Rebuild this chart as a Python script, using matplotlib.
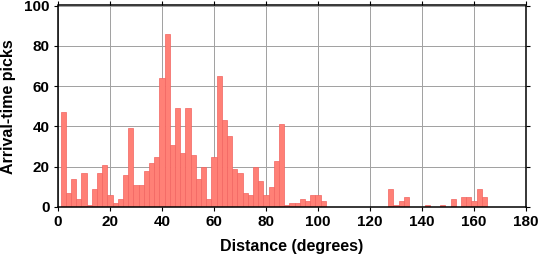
import matplotlib
matplotlib.use("Agg")
import matplotlib.pyplot as plt

plt.rcParams['font.family'] = ['Liberation Sans', 'DejaVu Sans']
plt.rcParams['font.weight'] = 'bold'

# bin centres (degrees) and number of picks per 2-degree bin
distance = [2, 4, 6, 8, 10, 12, 14, 16, 18, 20, 22, 24, 26, 28, 30, 32, 34, 36, 38, 40,
            42, 44, 46, 48, 50, 52, 54, 56, 58, 60, 62, 64, 66, 68, 70, 72, 74, 76, 78, 80,
            82, 84, 86, 88, 90, 92, 94, 96, 98, 100, 102,
            128, 130, 132, 134, 142, 148, 152, 156, 158, 160, 162, 164]
picks = [47, 7, 14, 4, 17, 1, 9, 17, 21, 6, 2, 4, 16, 39, 11, 11, 18, 22, 25, 64,
         86, 31, 49, 27, 49, 26, 14, 20, 4, 25, 65, 43, 35, 19, 17, 7, 6, 20, 13, 6,
         10, 23, 41, 1, 2, 2, 4, 3, 6, 6, 3,
         9, 1, 3, 5, 1, 1, 4, 5, 5, 3, 9, 5]

fig = plt.figure(figsize=(5.39, 2.58), dpi=100)
ax = fig.add_axes([58/539, 1 - 207/258, 468/539, 201.5/258])

ax.bar(distance, picks, width=2, color='#ff8076', edgecolor='#f26460', linewidth=0.5, zorder=2)

ax.set_xlim(0, 180)
ax.set_ylim(0, 100)
ax.set_xticks(range(0, 181, 20))
ax.set_yticks(range(0, 101, 20))
ax.grid(True, color='#a0a0a0', linewidth=0.7, zorder=0)
ax.set_axisbelow(True)

for s in ax.spines.values():
    s.set_linewidth(1.1)
ax.tick_params(direction='out', length=3, width=0.8, top=True, right=True,
               labelsize=11, pad=3)
for lab in ax.get_xticklabels() + ax.get_yticklabels():
    lab.set_fontweight('bold')

ax.set_xlabel('Distance (degrees)', fontsize=11.5, fontweight='bold', labelpad=7)
ax.set_ylabel('Arrival-time picks', fontsize=11.5, fontweight='bold', labelpad=6)

fig.savefig('out.png', dpi=100)
